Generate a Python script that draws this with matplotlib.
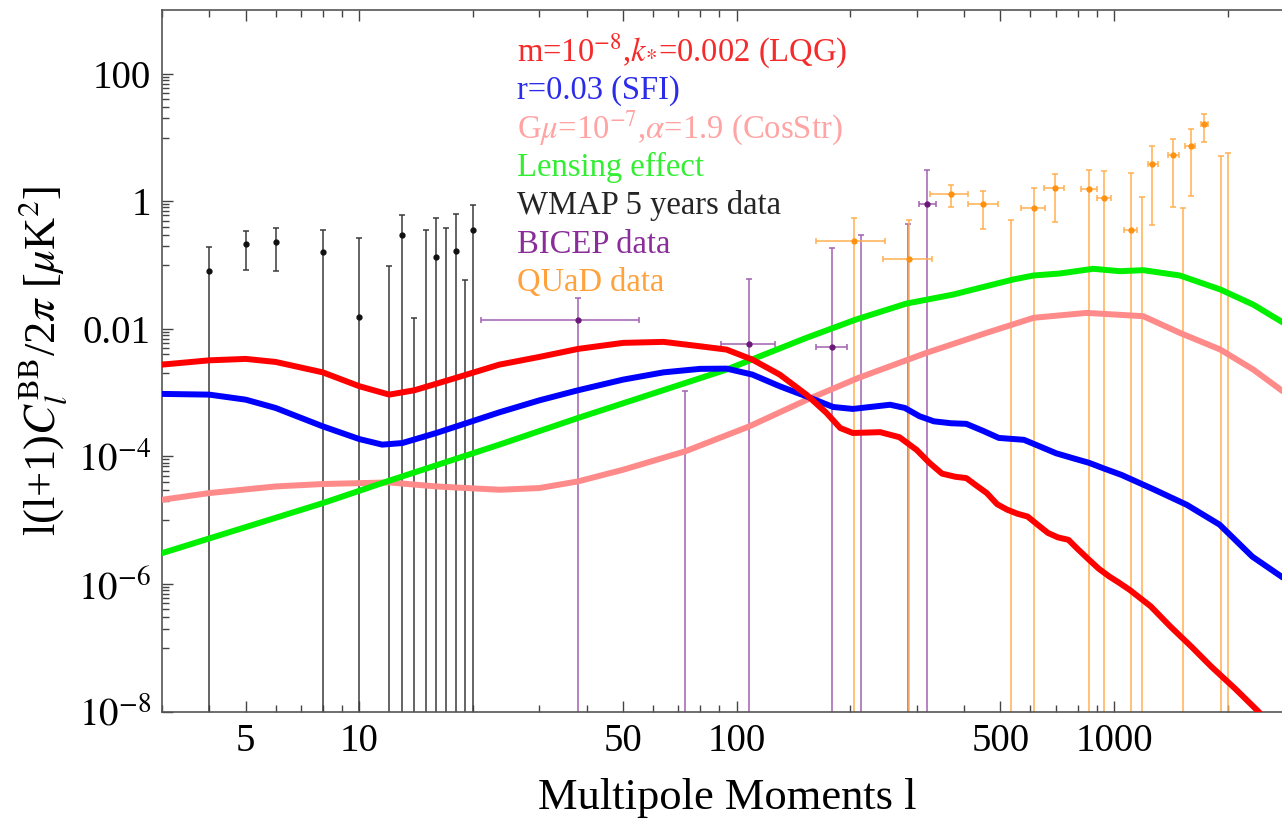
import numpy as np
import matplotlib
matplotlib.use("Agg")
import matplotlib.pyplot as plt
from matplotlib.ticker import FixedLocator, FixedFormatter, NullFormatter

plt.rcParams['font.family'] = ['Liberation Serif', 'DejaVu Serif']
plt.rcParams['mathtext.fontset'] = 'stix'

# theory curves: multipole l and l(l+1)C_l^BB/2pi in uK^2
lqg_l = [3, 4, 5, 6, 8, 10, 12, 14, 17.4, 23.5, 30, 38, 50, 64, 80, 94, 110, 130,
         153, 173, 188, 203, 240, 270, 300, 324, 350, 380, 406, 430, 460, 490, 521,
         555, 590, 630, 668, 710, 757, 800, 858, 910, 971, 1030, 1100, 1250, 1411,
         1600, 1810, 2100, 2412, 2800]
lqg_cl = [2.75e-3, 3.21e-3, 3.38e-3, 3.03e-3, 2.08e-3, 1.26e-3, 9.31e-4, 1.09e-3,
          1.60e-3, 2.75e-3, 3.63e-3, 4.85e-3, 6.03e-3, 6.25e-3, 5.33e-3, 4.73e-3,
          3.30e-3, 1.92e-3, 9.31e-4, 4.80e-4, 2.79e-4, 2.33e-4, 2.40e-4, 2.00e-4,
          1.26e-4, 7.94e-5, 5.37e-5, 4.79e-5, 4.57e-5, 3.55e-5, 2.66e-5, 1.78e-5,
          1.46e-5, 1.26e-5, 1.14e-5, 8.32e-6, 6.31e-6, 5.37e-6, 4.92e-6, 3.55e-6,
          2.40e-6, 1.74e-6, 1.31e-6, 1.05e-6, 8.07e-7, 4.47e-7, 2.14e-7, 1.05e-7,
          5.05e-8, 2.24e-8, 1.0e-8, 3.55e-9]

sfi_l = [3, 4, 5, 6, 8, 10, 11.5, 13, 16, 23.5, 30, 38, 50, 64, 80, 94, 110, 130,
         153, 180, 203, 230, 255, 279, 305, 333, 370, 406, 450, 495, 577, 640, 702,
         780, 858, 950, 1046, 1277, 1559, 1904, 2323, 2800]
sfi_cl = [9.55e-4, 9.31e-4, 7.76e-4, 5.75e-4, 2.96e-4, 1.87e-4, 1.53e-4, 1.62e-4,
          2.33e-4, 4.91e-4, 7.57e-4, 1.09e-3, 1.60e-3, 2.08e-3, 2.36e-3, 2.38e-3,
          1.92e-3, 1.26e-3, 8.75e-4, 5.96e-4, 5.55e-4, 6.03e-4, 6.46e-4, 5.75e-4,
          4.27e-4, 3.55e-4, 3.31e-4, 3.24e-4, 2.51e-4, 1.95e-4, 1.82e-4, 1.41e-4,
          1.12e-4, 9.33e-5, 7.94e-5, 6.31e-5, 5.13e-5, 3.02e-5, 1.74e-5, 8.51e-6,
          2.69e-6, 1.26e-6]

cosstr_l = [3, 4, 6, 8, 12, 16, 23.5, 30, 38, 50, 73, 108, 155, 210, 318, 459, 612,
            845, 1195, 1494, 1913, 2338, 2800]
cosstr_cl = [2.09e-5, 2.66e-5, 3.38e-5, 3.69e-5, 3.91e-5, 3.38e-5, 3.00e-5, 3.19e-5,
             4.06e-5, 6.18e-5, 1.20e-4, 2.96e-4, 7.94e-4, 1.70e-3, 4.20e-3, 8.65e-3,
             1.49e-2, 1.78e-2, 1.58e-2, 8.65e-3, 4.73e-3, 2.30e-3, 1.05e-3]

lens_l = [3, 8, 12, 23.5, 38, 94, 153, 207, 281.5, 374.5, 459, 540, 612, 718, 880,
          1036, 1195, 1494, 1913, 2338, 2800]
lens_cl = [3.04e-6, 1.85e-5, 4.16e-5, 1.53e-4, 4.01e-4, 2.30e-3, 7.23e-3, 1.40e-2,
           2.49e-2, 3.45e-2, 4.67e-2, 5.94e-2, 6.87e-2, 7.38e-2, 8.75e-2, 8.02e-2,
           8.32e-2, 6.87e-2, 4.14e-2, 2.40e-2, 1.26e-2]

# data points: value 0 = upper limit only, low 0 = bar runs off the bottom
wmap_l = [4, 5, 6, 8, 10, 12, 13, 14, 15, 16, 17, 18, 19, 20]
wmap_val = [0.080, 0.216, 0.234, 0.162, 0.0154, 0, 0.292, 0, 0, 0.135, 0, 0.165, 0, 0.36]
wmap_hi = [0.19, 0.339, 0.385, 0.36, 0.268, 0.096, 0.606, 0.0149, 0.36, 0.553,
           0.376, 0.622, 0.058, 0.863]
wmap_lo = [0, 0.085, 0.080, 0, 0, 0, 0, 0, 0, 0, 0, 0, 0, 0]

bicep_l = [38, 73, 108, 179, 214, 284, 320]
bicep_val = [0.0136, 0, 0.00582, 0.00521, 0, 0, 0.917]
bicep_hi = [0.030, 0.00105, 0.0597, 0.187, 0.292, 0.435, 3.09]
bicep_lo = [0, 0, 0, 0, 0, 0, 0]
bicep_lmin = [21, 73, 91, 162, 214, 284, 304]
bicep_lmax = [55, 73, 126, 196, 214, 284, 338]

quad_l = [205, 286, 369, 450, 532, 612, 698, 859, 940, 1106, 1187, 1262, 1435,
          1519, 1595, 1736, 1920, 2004]
quad_val = [0.237, 0.1225, 1.316, 0.917, 0, 0.794, 1.596, 1.538, 1.11, 0.350, 0,
            3.79, 5.26, 0, 7.36, 16.1, 0, 0]
quad_hi = [0.540, 0.507, 1.79, 1.445, 0.507, 1.596, 2.71, 3.09, 2.94, 2.81, 1.18,
           7.36, 9.37, 0.775, 13.4, 23.7, 5.13, 5.80]
quad_lo = [0, 0, 0.811, 0.362, 0, 0, 0.471, 0, 0, 0, 0, 0.419, 0.823, 0, 1.21,
           8.51, 0, 0]
quad_lmin = [162, 244, 325, 409, 532, 568, 653, 815, 899, 1062, 1187, 1231, 1391,
             1519, 1545, 1700, 1920, 2004]
quad_lmax = [247, 329, 409, 493, 532, 658, 738, 899, 981, 1148, 1187, 1304, 1485,
             1519, 1640, 1770, 1920, 2004]

x_ticks = [5, 10, 50, 100, 500, 1000]
x_tick_labels = ['5', '10', '50', '100', '500', '1000']
y_ticks = [1e-8, 1e-6, 1e-4, 1e-2, 1, 100]
y_tick_labels = [r'$10^{-8}$', r'$10^{-6}$', r'$10^{-4}$', '0.01', '1', '100']

legend_labels = [r'm=10$^{-8}$,$k_{*}$=0.002 (LQG)', 'r=0.03 (SFI)',
                 r'G$\mu$=10$^{-7}$,$\alpha$=1.9 (CosStr)', 'Lensing effect',
                 'WMAP 5 years data', 'BICEP data', 'QUaD data']
legend_colors = ['#f52a2a', '#2b2bea', '#ffa3a3', '#33ee33', '#252525', '#8a2d9a', '#ffa23c']


def draw_points(ax, l, val, hi, lo, color, dot_color, lmin=None, lmax=None):
    l = np.array(l, dtype=float)
    val = np.array(val, dtype=float)
    yerr = [val - np.array(lo), np.array(hi) - val]
    xerr = None
    if lmin is not None:
        xerr = [l - np.array(lmin), np.array(lmax) - l]
    ax.errorbar(l, val, yerr=yerr, xerr=xerr, fmt='o', ms=3.5, color=dot_color,
                ecolor=color, elinewidth=1.1, capsize=2.5, capthick=1.1, zorder=2)


fig = plt.figure(figsize=(12.82, 8.27), dpi=100)
ax = fig.add_axes([162 / 1282, 1 - 711.5 / 827, 1120 / 1282, 701.5 / 827])
ax.set_xscale('log')
ax.set_yscale('log')

# data with error bars
draw_points(ax, wmap_l, wmap_val, wmap_hi, wmap_lo, '#3a3a3a', '#111111')
draw_points(ax, bicep_l, bicep_val, bicep_hi, bicep_lo, '#a060b0', '#6a1a7a',
            bicep_lmin, bicep_lmax)
draw_points(ax, quad_l, quad_val, quad_hi, quad_lo, '#ffb050', '#ff9010',
            quad_lmin, quad_lmax)

# theory curves
curve_style = dict(lw=4.3, zorder=3, solid_joinstyle='round', solid_capstyle='round')
ax.plot(cosstr_l, cosstr_cl, color='#ff8a8a', **curve_style)
ax.plot(lens_l, lens_cl, color='#00f000', **curve_style)
ax.plot(sfi_l, sfi_cl, color='#0000ff', **curve_style)
ax.plot(lqg_l, lqg_cl, color='#ff0000', **curve_style)

ax.set_xlim(3, 2786)
ax.set_ylim(1e-8, 1e3)

# ticks: inward, on bottom/top and left
ax.xaxis.set_major_locator(FixedLocator(x_ticks))
ax.xaxis.set_major_formatter(FixedFormatter(x_tick_labels))
x_minor = [j * 10.0 ** e for e in range(0, 4) for j in range(1, 10)]
ax.xaxis.set_minor_locator(FixedLocator(x_minor))
ax.xaxis.set_minor_formatter(NullFormatter())
ax.yaxis.set_major_locator(FixedLocator(y_ticks))
ax.yaxis.set_major_formatter(FixedFormatter(y_tick_labels))
y_minor = [j * 10.0 ** e for e in (-7, -5, -3, -1, 1) for j in range(1, 10)]
ax.yaxis.set_minor_locator(FixedLocator(y_minor))
ax.yaxis.set_minor_formatter(NullFormatter())
ax.tick_params(which='both', direction='in', top=True, right=False, color='#444444',
               width=1.0, labelsize=28, pad=8)
ax.tick_params(which='major', length=8)
ax.tick_params(which='minor', length=5)
ax.spines['right'].set_visible(False)
for s in ['left', 'bottom', 'top']:
    ax.spines[s].set_color('#555555')
    ax.spines[s].set_linewidth(1.2)

ax.set_xlabel('Multipole Moments l', fontsize=32, labelpad=20)
ax.xaxis.set_label_coords(0.505, -0.095)
ax.set_ylabel(r'l(l+1)$C_l^{\mathrm{BB}}$/2$\pi$ [$\mu$K$^2$]', fontsize=32, labelpad=6)

# coloured text legend
for i, (txt, c) in enumerate(zip(legend_labels, legend_colors)):
    ax.text(0.317, 0.9406 - 0.055 * i, txt, color=c, fontsize=23.5,
            transform=ax.transAxes, ha='left', va='center')

fig.savefig('out.png', dpi=100)
